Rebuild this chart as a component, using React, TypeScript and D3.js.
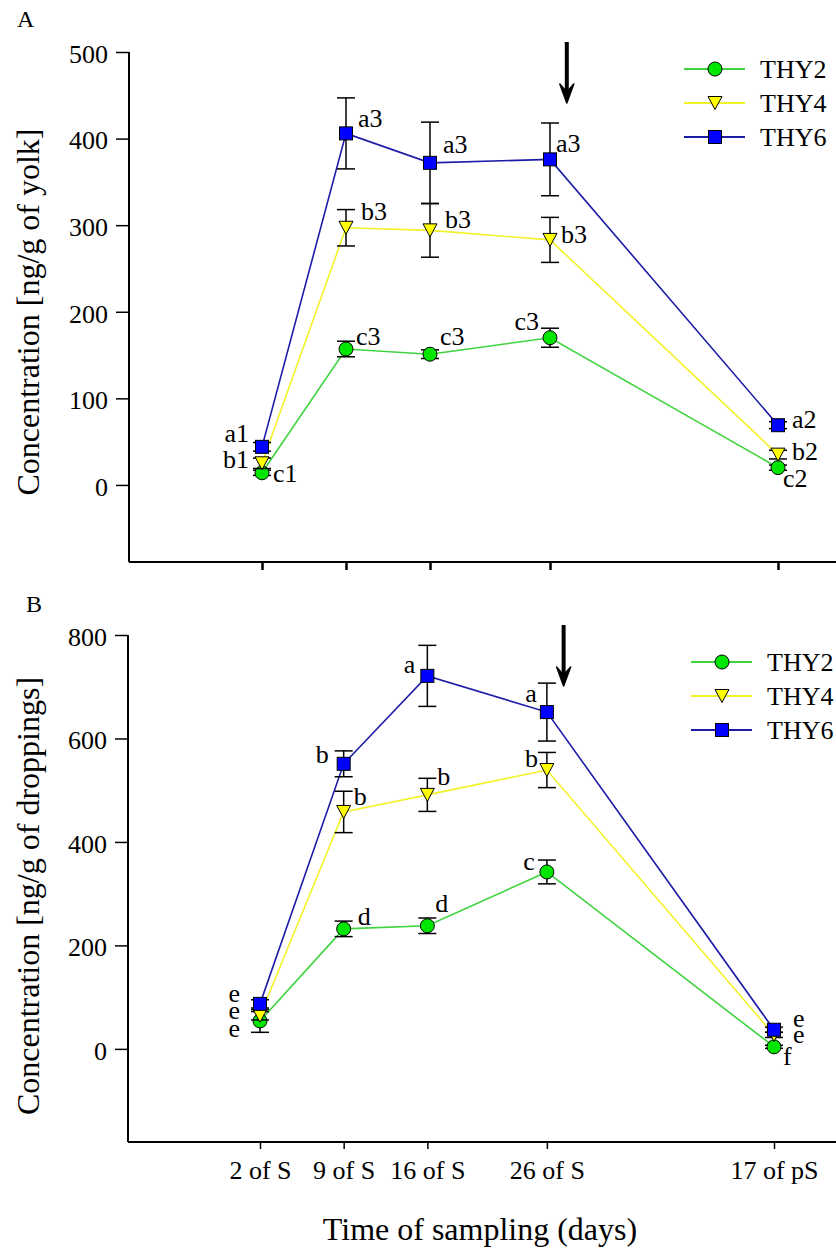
import React, { useRef, useEffect } from "react";
import * as d3 from "d3";

// sampling points (day of incubation used to place them on the x axis)
const sampleLabels = ["2 of S", "9 of S", "16 of S", "26 of S", "17 of pS"];
const sampleDays = [2, 9, 16, 26, 45];
const seriesNames = ["THY2", "THY4", "THY6"];

// panel A: yolk
const yolkTHY2 = [14, 157, 151, 170, 20];
const yolkTHY4 = [25, 297, 294, 283, 35];
const yolkTHY6 = [44, 406, 372, 376, 69];
const yolkErrTHY2 = [3, 9, 5, 11, 3];
const yolkErrTHY4 = [6, 21, 31, 26, 5];
const yolkErrTHY6 = [5, 41, 47, 42, 4];
const yolkLetTHY2 = ["c1", "c3", "c3", "c3", "c2"];
const yolkLetTHY4 = ["b1", "b3", "b3", "b3", "b2"];
const yolkLetTHY6 = ["a1", "a3", "a3", "a3", "a2"];
const yolkTicks = [0, 100, 200, 300, 400, 500];

// panel B: droppings
const dropTHY2 = [54, 232, 238, 342, 4];
const dropTHY4 = [64, 458, 491, 539, 27];
const dropTHY6 = [87, 551, 721, 651, 37];
const dropErrTHY2 = [22, 15, 15, 23, 3];
const dropErrTHY4 = [8, 40, 32, 34, 5];
const dropErrTHY6 = [8, 25, 59, 56, 5];
const dropLetTHY2 = ["e", "d", "d", "c", "f"];
const dropLetTHY4 = ["e", "b", "b", "b", "e"];
const dropLetTHY6 = ["e", "b", "a", "a", "e"];
const dropTicks = [0, 200, 400, 600, 800];

// day the arrow marks
const arrowDay = 27.4;

// letter placement relative to marker (layout only)
type Off = [number, number, string];
const yolkOff: Off[][] = [
  [[11, 9, "start"], [10, -4, "start"], [10, -9, "start"], [-11, -8, "end"], [5, 19, "start"]],
  [[-13, 5, "end"], [15, -8, "start"], [15, -2, "start"], [11, 3, "start"], [14, 5, "start"]],
  [[-13, -5, "end"], [12, -6, "start"], [13, -10, "start"], [6, -7, "start"], [14, 3, "start"]],
];
const dropOff: Off[][] = [
  [[-20, 16, "end"], [14, -4, "start"], [8, -14, "start"], [-12, -2, "end"], [9, 18, "start"]],
  [[-20, 3, "end"], [10, -7, "start"], [10, -10, "start"], [-9, -3, "end"], [19, 8, "start"]],
  [[-20, -2, "end"], [-15, -1, "end"], [-12, -3, "end"], [-10, -10, "end"], [19, -3, "start"]],
];

const FONT = "'Liberation Serif', 'Times New Roman', serif";
const lineColors = ["#3fd43f", "#f2f22a", "#1c1ca8"];
const fillColors = ["#00e600", "#ffff00", "#0000ff"];

function Marker({ kind, x, y }: { kind: number; x: number; y: number }) {
  if (kind === 0)
    return <circle cx={x} cy={y} r={7} fill={fillColors[0]} stroke="#000" strokeWidth={1} />;
  if (kind === 1)
    return (
      <path
        d={`M${x - 7},${y - 6.5}L${x + 7},${y - 6.5}L${x},${y + 6.5}Z`}
        fill={fillColors[1]}
        stroke="#000"
        strokeWidth={1}
      />
    );
  return <rect x={x - 6.5} y={y - 6.5} width={13} height={13} fill={fillColors[2]} stroke="#000" strokeWidth={1} />;
}

type PanelProps = {
  letter: string;
  letterPos: [number, number];
  values: number[][];
  errs: number[][];
  letters: string[][];
  offsets: Off[][];
  ticks: number[];
  yDomain: [number, number];
  yRange: [number, number];
  xRange: [number, number];
  axisLeftX: number;
  title: string;
  titleY: number;
  legendX: number;
  legendY: number;
  showLabels: boolean;
  tickLen: number;
  tickWidth: number;
};

function Panel(p: PanelProps) {
  const yAxisRef = useRef<SVGGElement>(null);
  const xAxisRef = useRef<SVGGElement>(null);
  const x = d3.scaleLinear().domain([2, 45]).range(p.xRange);
  const y = d3.scaleLinear().domain(p.yDomain).range(p.yRange);
  const bottom = p.yRange[0];

  useEffect(() => {
    const ya = d3
      .axisLeft(y)
      .tickValues(p.ticks)
      .tickSize(13)
      .tickSizeOuter(0)
      .tickPadding(8)
      .tickFormat(d3.format("d"));
    const gy = d3.select(yAxisRef.current!);
    gy.call(ya as any);
    gy.select(".domain").remove();
    gy.selectAll(".tick line").attr("stroke-width", 1.5);
    gy.selectAll(".tick text")
      .attr("font-family", FONT)
      .attr("font-size", 26)
      .attr("fill", "#000")
      .attr("dy", "0.4em");

    const xa = d3
      .axisBottom(x)
      .tickValues(sampleDays)
      .tickSize(p.tickLen)
      .tickSizeOuter(0)
      .tickPadding(12)
      .tickFormat((d, i) => (p.showLabels ? sampleLabels[i] : ""));
    const gx = d3.select(xAxisRef.current!);
    gx.call(xa as any);
    gx.select(".domain").remove();
    gx.selectAll(".tick line").attr("stroke-width", p.tickWidth);
    gx.selectAll(".tick text")
      .attr("font-family", FONT)
      .attr("font-size", 26)
      .attr("fill", "#000");
  }, []);

  const line = d3
    .line<number>()
    .x((_, i) => x(sampleDays[i]))
    .y((d) => y(d));

  const ax = x(arrowDay);
  const top = p.yRange[1];
  const arrowTop = top - 10;

  return (
    <g>
      <text x={p.letterPos[0]} y={p.letterPos[1]} fontFamily={FONT} fontSize={24}>
        {p.letter}
      </text>
      <g ref={yAxisRef} transform={`translate(${p.axisLeftX},0)`} />
      <g ref={xAxisRef} transform={`translate(0,${bottom})`} />
      <line x1={p.axisLeftX} x2={p.axisLeftX} y1={top} y2={bottom} stroke="#000" strokeWidth={2} />
      <line x1={p.axisLeftX} x2={836} y1={bottom} y2={bottom} stroke="#000" strokeWidth={2} />
      <text
        transform={`translate(39,${p.titleY}) rotate(-90)`}
        textAnchor="middle"
        fontFamily={FONT}
        fontSize={32}
      >
        {p.title}
      </text>

      {p.values.map((vals, s) => (
        <g key={s}>
          <path d={line(vals) || ""} fill="none" stroke={lineColors[s]} strokeWidth={1.6} />
          {vals.map((v, i) => {
            const cx = x(sampleDays[i]);
            const e = p.errs[s][i];
            return (
              <g key={i} stroke="#000" strokeWidth={1.5}>
                <line x1={cx} x2={cx} y1={y(v + e)} y2={y(v - e)} />
                <line x1={cx - 9} x2={cx + 9} y1={y(v + e)} y2={y(v + e)} />
                <line x1={cx - 9} x2={cx + 9} y1={y(v - e)} y2={y(v - e)} />
              </g>
            );
          })}
          {vals.map((v, i) => (
            <Marker key={i} kind={s} x={x(sampleDays[i])} y={y(v)} />
          ))}
          {vals.map((v, i) => {
            const o = p.offsets[s][i];
            return (
              <text
                key={i}
                x={x(sampleDays[i]) + o[0]}
                y={y(v) + o[1]}
                textAnchor={o[2] as any}
                fontFamily={FONT}
                fontSize={26}
              >
                {p.letters[s][i]}
              </text>
            );
          })}
        </g>
      ))}

      {/* arrow */}
      <line x1={ax} x2={ax} y1={arrowTop} y2={arrowTop + 52} stroke="#000" strokeWidth={4} />
      <path
        d={`M${ax - 7},${arrowTop + 42}L${ax},${arrowTop + 61}L${ax + 7},${arrowTop + 42}L${ax},${arrowTop + 50}Z`}
        fill="#000"
        stroke="#000"
        strokeWidth={1.5}
        strokeLinejoin="round"
      />

      {/* legend */}
      {seriesNames.map((n, s) => {
        const ly = p.legendY + s * 34;
        return (
          <g key={n}>
            <line x1={p.legendX} x2={p.legendX + 61} y1={ly} y2={ly} stroke={lineColors[s]} strokeWidth={2} />
            <Marker kind={s} x={p.legendX + 31} y={ly} />
            <text x={p.legendX + 76} y={ly + 9} fontFamily={FONT} fontSize={26}>
              {n}
            </text>
          </g>
        );
      })}
    </g>
  );
}

export default function App() {
  return (
    <svg
      width={836}
      height={1249}
      style={{ position: "absolute", left: 0, top: 0, background: "#fff" }}
    >
      <rect width={836} height={1249} fill="#fff" />
      <Panel
        letter="A"
        letterPos={[17, 27]}
        values={[yolkTHY2, yolkTHY4, yolkTHY6]}
        errs={[yolkErrTHY2, yolkErrTHY4, yolkErrTHY6]}
        letters={[yolkLetTHY2, yolkLetTHY4, yolkLetTHY6]}
        offsets={yolkOff}
        ticks={yolkTicks}
        yDomain={[-89, 500]}
        yRange={[562, 52]}
        xRange={[262, 778]}
        axisLeftX={129}
        title="Concentration [ng/g of yolk]"
        titleY={312}
        legendX={684}
        legendY={69}
        showLabels={false}
        tickLen={8}
        tickWidth={2.5}
      />
      <Panel
        letter="B"
        letterPos={[26, 612]}
        values={[dropTHY2, dropTHY4, dropTHY6]}
        errs={[dropErrTHY2, dropErrTHY4, dropErrTHY6]}
        letters={[dropLetTHY2, dropLetTHY4, dropLetTHY6]}
        offsets={dropOff}
        ticks={dropTicks}
        yDomain={[-180, 800]}
        yRange={[1142, 635]}
        xRange={[260, 774]}
        axisLeftX={128}
        title="Concentration [ng/g of droppings]"
        titleY={896}
        legendX={691}
        legendY={662}
        showLabels={true}
        tickLen={7}
        tickWidth={1.5}
      />
      <text x={480} y={1240} textAnchor="middle" fontFamily={FONT} fontSize={32}>
        Time of sampling (days)
      </text>
    </svg>
  );
}
